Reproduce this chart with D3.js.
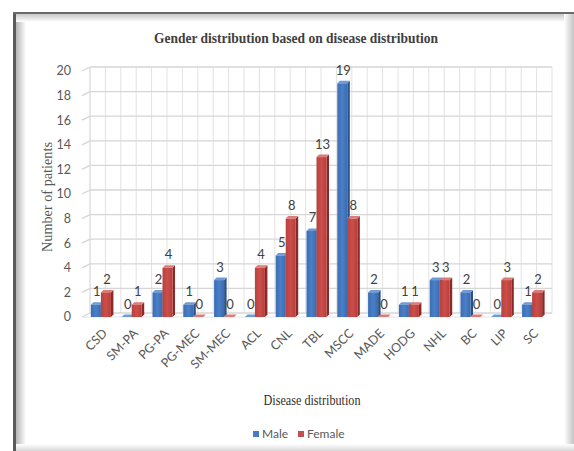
<!DOCTYPE html>
<html><head><meta charset="utf-8">
<script src="https://cdn.jsdelivr.net/npm/d3@7"></script>
<style>body{margin:0;background:#fff}svg{display:block}</style>
</head><body>
<script>
const categories = ["CSD","SM-PA","PG-PA","PG-MEC","SM-MEC","ACL","CNL","TBL","MSCC","MADE","HODG","NHL","BC","LIP","SC"];
const male   = [1,0,2,1,3,0,5,7,19,2,1,3,2,0,1];
const female = [2,1,4,0,0,4,8,13,8,0,1,3,0,3,2];
const seriesNames = ["Male","Female"];
const yTicks = [0,2,4,6,8,10,12,14,16,18,20];

const W=574,H=451;
const svg=d3.select("body").append("svg").attr("width",W).attr("height",H);
const defs=svg.append("defs");
function lin(id,x1,y1,x2,y2,stops){const g=defs.append("linearGradient").attr("id",id).attr("x1",x1).attr("y1",y1).attr("x2",x2).attr("y2",y2);stops.forEach(s=>g.append("stop").attr("offset",s[0]).attr("stop-color",s[1]));}
lin("gL",0,0,1,0,[[0,"#b5b5b5"],[1,"#ffffff"]]);
lin("gT",0,0,0,1,[[0,"#c8c8c8"],[1,"#ffffff"]]);
lin("gR",0,0,1,0,[[0,"#ffffff"],[1,"#c4c4c4"]]);
lin("gB",0,0,0,1,[[0,"#ffffff"],[1,"#d8d8d8"]]);
lin("mF",0,0,1,0,[[0,"#3a6db5"],[0.5,"#4a80c8"],[1,"#3a6aae"]]);
lin("fF",0,0,1,0,[[0,"#b8413e"],[0.5,"#cc4e4a"],[1,"#b63e3b"]]);

// frame
svg.append("rect").attr("x",0).attr("y",0).attr("width",W).attr("height",H).attr("fill","#fff");
svg.append("rect").attr("x",16).attr("y",14).attr("width",10).attr("height",H-14).attr("fill","url(#gL)");
svg.append("rect").attr("x",16).attr("y",14).attr("width",W-16).attr("height",8).attr("fill","url(#gT)");
svg.append("rect").attr("x",564).attr("y",14).attr("width",10).attr("height",H-14).attr("fill","url(#gR)");
svg.append("rect").attr("x",16).attr("y",444).attr("width",W-16).attr("height",7).attr("fill","url(#gB)");
svg.append("rect").attr("x",13).attr("y",12).attr("width",3).attr("height",H-12).attr("fill","#5a5a5a");
svg.append("rect").attr("x",13).attr("y",12).attr("width",W-13).attr("height",2).attr("fill","#6b6b6b");

// scales
const x=d3.scaleBand().domain(categories).range([85.5,547.5]).paddingInner(0.35).paddingOuter(0.175);
const xs=d3.scaleBand().domain(seriesNames).range([0,x.bandwidth()]);
const y=d3.scaleLinear().domain([0,20]).range([317,71]);
const wallDX=8, wallDY=-4;
const wallL=x.range()[0]+4.5, wallR=x.range()[1]+4.5;

// grid
const grid=svg.append("g");
for(let k=0;k<=categories.length*2;k++){
  const gx=wallL+k*x.step()/2;
  grid.append("line").attr("x1",gx).attr("x2",gx).attr("y1",y(20)+wallDY).attr("y2",y(0)+wallDY)
    .attr("stroke","#e2e2e2").attr("stroke-width",1);
}
yTicks.forEach(t=>{
  const gy=y(t)+wallDY;
  grid.append("line").attr("x1",wallL).attr("x2",wallR).attr("y1",gy).attr("y2",gy).attr("stroke","#d6d6d6").attr("stroke-width",1.3);
  grid.append("line").attr("x1",wallL-wallDX).attr("x2",wallL).attr("y1",gy-wallDY).attr("y2",gy).attr("stroke","#d6d6d6").attr("stroke-width",1.3);
});
grid.append("line").attr("x1",wallL-wallDX).attr("x2",wallR-wallDX).attr("y1",y(0)).attr("y2",y(0)).attr("stroke","#e4e4e4");
grid.append("line").attr("x1",wallL).attr("x2",wallL).attr("y1",y(20)+wallDY).attr("y2",y(0)+wallDY).attr("stroke","#dcdcdc");

// y tick labels
svg.append("g").selectAll("text").data(yTicks).join("text")
  .attr("x",71).attr("y",d=>y(d)).attr("dy","0.35em").attr("text-anchor","end")
  .attr("font-family","Lato, 'Open Sans', sans-serif").attr("font-size",12.5).attr("fill","#595959").text(d=>d);

// bars
const dx=2.5, dy=-2.5;
const colors={Male:{front:"url(#mF)",side:"#2a5088",top:"#6f9bd6"},Female:{front:"url(#fF)",side:"#8a2a28",top:"#dc7b77"}};
const rows=categories.map((c,i)=>({c,vals:{Male:male[i],Female:female[i]}}));
const bars=svg.append("g");
rows.forEach(r=>{
  seriesNames.forEach(s=>{
    const v=r.vals[s];
    const x0=x(r.c)+xs(s), w=xs.bandwidth();
    const yt=y(v), yb=y(0);
    const col=colors[s];
    const g=bars.append("g");
    g.append("path").attr("d",`M${x0+w},${yt}L${x0+w+dx},${yt+dy}L${x0+w+dx},${yb+dy}L${x0+w},${yb}Z`).attr("fill",col.side);
    g.append("path").attr("d",`M${x0},${yt}L${x0+dx},${yt+dy}L${x0+w+dx},${yt+dy}L${x0+w},${yt}Z`).attr("fill",col.top);
    if(yb-yt>0) g.append("rect").attr("x",x0).attr("y",yt).attr("width",w).attr("height",yb-yt).attr("fill",col.front);
  });
});
// data labels
const lbl=svg.append("g");
rows.forEach(r=>{
  seriesNames.forEach(s=>{
    const v=r.vals[s];
    lbl.append("text").attr("x",x(r.c)+xs(s)+xs.bandwidth()/2+1).attr("y",y(v)+dy-6)
      .attr("text-anchor","middle").attr("font-family","Lato, 'Open Sans', sans-serif").attr("font-size",13)
      .attr("fill","#404040").text(v);
  });
});

// x tick labels
svg.append("g").selectAll("text").data(categories).join("text")
  .attr("transform",d=>`translate(${x(d)+x.bandwidth()/2+4},${331}) rotate(-45)`)
  .attr("text-anchor","end").attr("dy","0.35em")
  .attr("font-family","Lato, 'Open Sans', sans-serif").attr("font-size",12.5).attr("fill","#595959").text(d=>d);

// titles
const serif="'Liberation Serif','Times New Roman',serif";
svg.append("text").attr("x",296).attr("y",43).attr("text-anchor","middle")
  .attr("font-family",serif).attr("font-weight","bold").attr("font-size",15.5)
  .attr("textLength",284).attr("lengthAdjust","spacingAndGlyphs")
  .attr("fill","#404040").text("Gender distribution based on disease distribution");
svg.append("text").attr("transform","translate(52,197) rotate(-90)").attr("text-anchor","middle")
  .attr("font-family",serif).attr("font-size",14.5)
  .attr("textLength",110).attr("lengthAdjust","spacingAndGlyphs")
  .attr("fill","#595959").text("Number of patients");
svg.append("text").attr("x",312).attr("y",405).attr("text-anchor","middle")
  .attr("font-family",serif).attr("font-size",15)
  .attr("textLength",97).attr("lengthAdjust","spacingAndGlyphs")
  .attr("fill","#303030").text("Disease distribution");

// legend
const leg=svg.append("g");
const legItems=[{n:"Male",c:"#4a7cc0",x:253},{n:"Female",c:"#c0504d",x:298}];
legItems.forEach(l=>{
  leg.append("rect").attr("x",l.x).attr("y",431).attr("width",6).attr("height",6).attr("fill",l.c);
  leg.append("text").attr("x",l.x+9).attr("y",434).attr("dy","0.35em").attr("font-family","Lato, 'Open Sans', sans-serif")
    .attr("font-size",12).attr("fill","#595959").text(l.n);
});
</script>
</body></html>
